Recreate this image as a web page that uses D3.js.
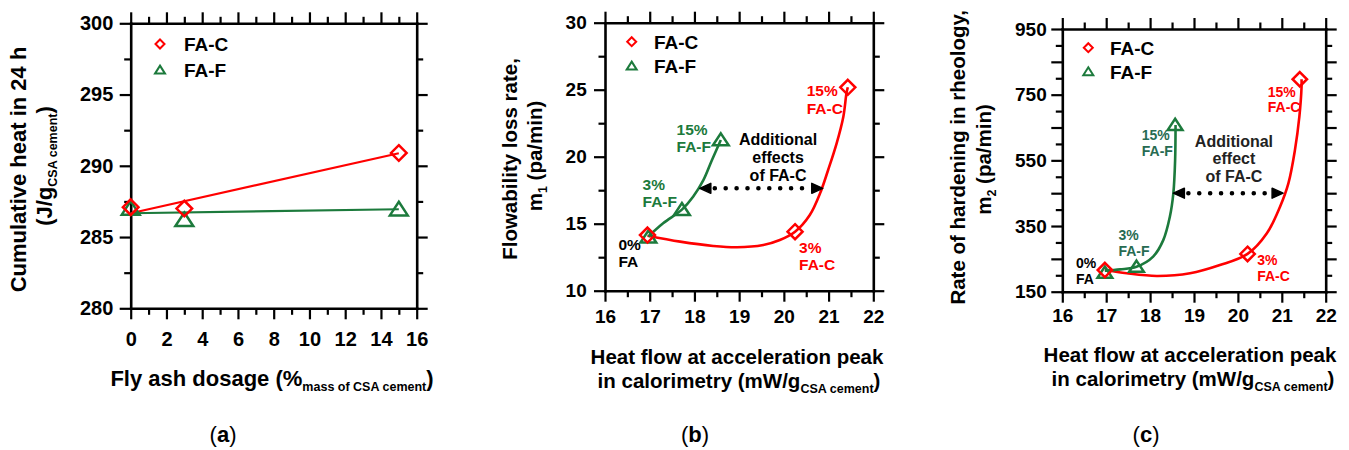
<!DOCTYPE html>
<html>
<head>
<meta charset="utf-8">
<script src="https://cdn.jsdelivr.net/npm/d3@7"></script>
<style>
  body { margin: 0; background: #fff; }
  text { font-family: "Liberation Sans", Arial, sans-serif; }
</style>
</head>
<body>
<svg id="chart" width="1349" height="450"></svg>
<script>
// ---- DATA ----

// (a) cumulative heat in 24 h vs fly ash dosage
const dosage = [0, 3, 15];
const heatFAC = [287.1, 287.0, 290.9];
const heatFAF = [287.0, 286.2, 286.95];
const fitDosage = [0, 15];
const fitHeatFAC = [286.67, 290.88];
const fitHeatFAF = [286.67, 286.95];

// (b) flowability loss rate m1 vs heat flow at acceleration peak
const peakFAC_b = [16.95, 20.25, 21.43];
const m1FAC = [14.15, 14.4, 25.18];
const peakFAF_b = [16.97, 17.72, 18.59];
const m1FAF = [14.0, 16.05, 21.25];
// trend curves
const trendB_FAC = [[16.95, 14.1], [17.68, 13.66], [18.42, 13.34], [18.95, 13.24], [19.54, 13.41], [19.91, 13.78],
  [20.25, 14.4], [20.58, 15.65], [20.81, 17.27], [20.99, 19.01], [21.18, 21.0], [21.33, 22.99], [21.4, 24.73], [21.43, 25.18]];
const trendB_FAF = [[16.97, 14.05], [17.3, 15.03], [17.72, 16.05], [17.97, 17.01], [18.2, 18.25], [18.39, 19.74], [18.59, 21.25]];
const arrowB = [[18.12, 17.64], [20.87, 17.64]];

// (c) rate of hardening m2 vs heat flow at acceleration peak
const peakFAC_c = [16.97, 20.22, 21.41];
const m2FAC = [216, 265, 797];
const peakFAF_c = [16.97, 17.69, 18.57];
const m2FAF = [208, 226, 658];
const trendC_FAC = [[16.97, 216], [17.47, 206], [18.15, 198], [18.91, 206], [19.59, 231], [20.22, 265], [20.66, 328],
  [20.96, 409], [21.15, 480], [21.3, 582], [21.4, 683], [21.45, 774], [21.45, 797]];
const trendC_FAF = [[16.97, 214], [17.32, 218], [17.69, 226], [18.07, 257], [18.3, 307], [18.45, 378], [18.53, 450],
  [18.57, 551], [18.58, 658]];
const arrowC = [[18.53, 450], [21.03, 450]];

// tick values
const ticksA_x = [0, 2, 4, 6, 8, 10, 12, 14, 16];
const minorA_x = [1, 3, 5, 7, 9, 11, 13, 15];
const ticksA_y = [280, 285, 290, 295, 300];
const minorA_y = [282.5, 287.5, 292.5, 297.5];
const ticksBC_x = [16, 17, 18, 19, 20, 21, 22];
const minorBC_x = [16.5, 17.5, 18.5, 19.5, 20.5, 21.5];
const ticksB_y = [10, 15, 20, 25, 30];
const minorB_y = [12.5, 17.5, 22.5, 27.5];
const ticksC_y = [150, 250, 350, 450, 550, 650, 750, 850, 950];
const labelsC_y = [150, 350, 550, 750, 950];
const minorC_y = [200, 300, 400, 500, 600, 700, 800, 900];

// annotations: lines + anchor (data units, first baseline)
const notesB = [
  { lines: ["15%", "FA-F"], at: [17.6, 21.63], kind: "F" },
  { lines: ["3%", "FA-F"], at: [16.84, 17.53], kind: "F" },
  { lines: ["0%", "FA"], at: [16.3, 13.05], kind: "0" },
  { lines: ["15%", "FA-C"], at: [20.51, 24.51], kind: "C" },
  { lines: ["3%", "FA-C"], at: [20.34, 12.83], kind: "C" },
];
const effectB = ["Additional", "effects", "of FA-C"];
const effectB_at = [19.87, 20.9];
const notesC = [
  { lines: ["15%", "FA-F"], at: [17.81, 612], kind: "F" },
  { lines: ["3%", "FA-F"], at: [17.28, 307], kind: "F" },
  { lines: ["0%", "FA"], at: [16.31, 221], kind: "0" },
  { lines: ["15%", "FA-C"], at: [20.68, 744], kind: "C" },
  { lines: ["3%", "FA-C"], at: [20.44, 231], kind: "C" },
];
const effectC = ["Additional", "effect", "of FA-C"];
const effectC_at = [19.91, 592];

// ---- STYLE ----
const RED = "#ff0000";
const GREEN = "#1c7a3c";
const GREEN_C = "#276b52";
const FONT = '"Liberation Sans", Arial, sans-serif';

const svg = d3.select("#chart");

// Diamond and triangle outlines
function diamond(r) {
  return `M0,${-r}L${r},0L0,${r}L${-r},0Z`;
}
function triangle(w, h) {
  return `M0,${-h * 0.55}L${w / 2},${h * 0.45}L${-w / 2},${h * 0.45}Z`;
}

// Frame with outward ticks on all four sides
function drawFrame(g, x, y, o) {
  const [yb, yt] = y.range();
  const [xl, xr] = x.range();
  const sides = [
    [d3.axisBottom, x, `translate(0,${yb})`, o.xMajor, o.xMinor, true, o.xPad],
    [d3.axisTop, x, `translate(0,${yt})`, o.xMajor, o.xMinor, false, 0],
    [d3.axisLeft, y, `translate(${xl},0)`, o.yMajor, o.yMinor, true, o.yPad],
    [d3.axisRight, y, `translate(${xr},0)`, o.yMajor, o.yMinor, false, 0],
  ];
  sides.forEach(([maker, scale, pos, major, minor, labels, pad]) => {
    const gmin = g.append("g").attr("transform", pos)
      .call(maker(scale).tickValues(minor).tickSizeInner(6.5).tickSizeOuter(0).tickFormat(""));
    gmin.select(".domain").remove();
    gmin.selectAll(".tick line").attr("stroke", "#000").attr("stroke-width", 2.2);

    const gmaj = g.append("g").attr("transform", pos)
      .call(maker(scale).tickValues(major).tickSizeInner(11).tickSizeOuter(0).tickPadding(pad)
        .tickFormat(labels ? (o.fmt || ((d) => d)) : ""));
    gmaj.select(".domain").attr("stroke", "#000").attr("stroke-width", 2.6).attr("stroke-linecap", "square");
    gmaj.selectAll(".tick line").attr("stroke", "#000").attr("stroke-width", 2.2);
    gmaj.selectAll(".tick text")
      .attr("font-family", FONT).attr("font-size", o.tickFont || 19).attr("font-weight", "bold").attr("fill", "#000");
  });
}

// legend: off = [marker dx, first row dy, text dx, row gap] from plot top-left
function drawLegend(g, x, y, off) {
  const x0 = x.range()[0];
  const lx = x0 + off[0];
  const ly = y.range()[1] + off[1];
  g.append("path").attr("d", diamond(4.5)).attr("transform", `translate(${lx},${ly})`)
    .attr("fill", "none").attr("stroke", RED).attr("stroke-width", 2);
  g.append("path").attr("d", triangle(10, 8)).attr("transform", `translate(${lx},${ly + off[3]})`)
    .attr("fill", "none").attr("stroke", GREEN).attr("stroke-width", 2);
  [["FA-C", 0], ["FA-F", off[3]]].forEach(([t, dy]) => {
    g.append("text").attr("x", x0 + off[2]).attr("y", ly + dy).attr("dy", "0.36em")
      .attr("font-size", 19).attr("font-weight", "bold").text(t);
  });
}

function drawMarkers(g, x, y, xs, ys, kind, size) {
  g.append("g").selectAll("path").data(xs).join("path")
    .attr("d", kind === "C" ? diamond(size) : triangle(size * 2.1, size * 1.6))
    .attr("transform", (d, i) => `translate(${x(d)},${y(ys[i])})`)
    .attr("fill", "none")
    .attr("stroke", kind === "C" ? RED : GREEN)
    .attr("stroke-width", 2.5);
}

function drawTrend(g, x, y, pts, color) {
  const line = d3.line().x((d) => x(d[0])).y((d) => y(d[1])).curve(d3.curveCatmullRom.alpha(0.5));
  g.append("path").attr("d", line(pts)).attr("fill", "none").attr("stroke", color).attr("stroke-width", 2.6);
}

function drawArrow(g, x, y, ends) {
  const x0 = x(ends[0][0]), x1 = x(ends[1][0]), yy = y(ends[0][1]);
  g.append("line").attr("x1", x0 + 15).attr("x2", x1 - 12).attr("y1", yy).attr("y2", yy)
    .attr("stroke", "#000").attr("stroke-width", 4.6).attr("stroke-linecap", "round")
    .attr("stroke-dasharray", "0 10.9");
  g.append("path").attr("d", `M${x0},${yy}L${x0 + 11},${yy - 5}L${x0 + 11},${yy + 5}Z`)
    .attr("fill", "#000").attr("stroke", "#000").attr("stroke-width", 1.5).attr("stroke-linejoin", "round");
  g.append("path").attr("d", `M${x1},${yy}L${x1 - 11},${yy - 5}L${x1 - 11},${yy + 5}Z`)
    .attr("fill", "#000").attr("stroke", "#000").attr("stroke-width", 1.5).attr("stroke-linejoin", "round");
}

function drawNotes(g, x, y, notes, size, lh, greenColor) {
  notes.forEach((n) => {
    const color = n.kind === "C" ? RED : n.kind === "F" ? greenColor : "#000";
    const t = g.append("text").attr("x", x(n.at[0])).attr("y", y(n.at[1]))
      .attr("font-size", size).attr("font-weight", "bold").attr("fill", color);
    n.lines.forEach((s, i) => t.append("tspan").attr("x", x(n.at[0])).attr("dy", i ? lh : 0).text(s));
  });
}

function drawEffect(g, x, y, lines, at, size, lh, color) {
  const t = g.append("text").attr("x", x(at[0])).attr("y", y(at[1])).attr("text-anchor", "middle")
    .attr("font-size", size).attr("font-weight", "bold").attr("fill", color);
  lines.forEach((s, i) => t.append("tspan").attr("x", x(at[0])).attr("dy", i ? lh : 0).text(s));
}

// text with subscript parts: parts = [[text, isSub], ...]
function richText(sel, parts, size, subSize, shift) {
  let down = false;
  parts.forEach(([s, sub]) => {
    const ts = sel.append("tspan").text(s);
    if (sub) { ts.attr("font-size", subSize).attr("dy", shift); down = true; }
    else if (down) { ts.attr("dy", -shift); down = false; }
  });
  return sel;
}

function yTitle(g, bx, cy, parts, size) {
  const t = g.append("text").attr("transform", `translate(${bx},${cy}) rotate(-90)`)
    .attr("text-anchor", "middle").attr("font-size", size).attr("font-weight", "bold");
  return richText(t, parts, size, 12.5, 5);
}

function xTitle(g, cx, by, parts, size) {
  const t = g.append("text").attr("x", cx).attr("y", by)
    .attr("text-anchor", "middle").attr("font-size", size).attr("font-weight", "bold");
  return richText(t, parts, size, 12.5, 5);
}

function panelTag(g, cx, by, letter) {
  const t = g.append("text").attr("x", cx).attr("y", by).attr("text-anchor", "middle")
    .attr("font-family", '"Liberation Serif", "Times New Roman", serif').attr("font-size", 22);
  t.append("tspan").text("(");
  t.append("tspan").attr("font-weight", "bold").text(letter);
  t.append("tspan").text(")");
}

// ---- PANEL (a) ----
{
  const g = svg.append("g");
  const x = d3.scaleLinear().domain([0, 16]).range([130.7, 416.7]);
  const y = d3.scaleLinear().domain([280, 300]).range([308.3, 23.3]);
  drawFrame(g, x, y, { xMajor: ticksA_x, xMinor: minorA_x, yMajor: ticksA_y, yMinor: minorA_y, xPad: 12.4, yPad: 6.4, tickFont: 20 });

  const fit = d3.line().x((d) => x(d[0])).y((d) => y(d[1]));
  g.append("path").attr("d", fit(fitDosage.map((d, i) => [d, fitHeatFAC[i]])))
    .attr("fill", "none").attr("stroke", RED).attr("stroke-width", 2.2);
  g.append("path").attr("d", fit(fitDosage.map((d, i) => [d, fitHeatFAF[i]])))
    .attr("fill", "none").attr("stroke", GREEN).attr("stroke-width", 2.2);
  drawMarkers(g, x, y, dosage, heatFAF, "F", 8.5);
  drawMarkers(g, x, y, dosage, heatFAC, "C", 7.8);
  drawLegend(g, x, y, [29.3, 20.7, 53.3, 26]);

  yTitle(g, 26, 169.5, [["Cumulative heat in 24 h", false]], 22);
  yTitle(g, 52, 166, [["(J/g", false], ["CSA cement", true], [")", false]], 22);
  xTitle(g, 272, 386, [["Fly ash dosage (%", false], ["mass of CSA cement", true], [")", false]], 22);
  panelTag(g, 223, 442, "a");
}

// ---- PANEL (b) ----
{
  const g = svg.append("g");
  const x = d3.scaleLinear().domain([16, 22]).range([605, 873.3]);
  const y = d3.scaleLinear().domain([10, 30]).range([290.7, 22.7]);
  drawFrame(g, x, y, { xMajor: ticksBC_x, xMinor: minorBC_x, yMajor: ticksB_y, yMinor: minorB_y, xPad: 8.3, yPad: 7.3 });

  drawTrend(g, x, y, trendB_FAC, RED);
  drawTrend(g, x, y, trendB_FAF, GREEN);
  drawMarkers(g, x, y, peakFAF_b, m1FAF, "F", 7.5);
  drawMarkers(g, x, y, peakFAC_b, m1FAC, "C", 7.5);
  drawArrow(g, x, y, arrowB);
  drawNotes(g, x, y, notesB, 15.5, 17.6, GREEN);
  drawEffect(g, x, y, effectB, effectB_at, 16, 18, "#000");
  drawLegend(g, x, y, [26.7, 19, 49, 24.3]);

  yTitle(g, 517, 159, [["Flowability loss rate,", false]], 20.5);
  yTitle(g, 541.5, 156, [["m", false], ["1", true], [" (pa/min)", false]], 20.5);
  xTitle(g, 737, 364, [["Heat flow at acceleration peak", false]], 20.5);
  xTitle(g, 739, 388, [["in calorimetry (mW/g", false], ["CSA cement", true], [")", false]], 20.5);
  panelTag(g, 695, 442, "b");
}

// ---- PANEL (c) ----
{
  const g = svg.append("g");
  const x = d3.scaleLinear().domain([16, 22]).range([1062.3, 1325.7]);
  const y = d3.scaleLinear().domain([150, 950]).range([291.7, 29]);
  drawFrame(g, x, y, {
    xMajor: ticksBC_x, xMinor: minorBC_x, yMajor: ticksC_y, yMinor: minorC_y, xPad: 5.6, yPad: 4.6,
    fmt: (d) => (labelsC_y.includes(d) || ticksBC_x.includes(d) ? d : ""),
  });

  drawTrend(g, x, y, trendC_FAC, RED);
  drawTrend(g, x, y, trendC_FAF, GREEN);
  drawMarkers(g, x, y, peakFAF_c, m2FAF, "F", 7);
  drawMarkers(g, x, y, peakFAC_c, m2FAC, "C", 7.2);
  drawArrow(g, x, y, arrowC);
  drawNotes(g, x, y, notesC, 14, 15.7, GREEN_C);
  drawEffect(g, x, y, effectC, effectC_at, 16, 17.8, "#222");
  drawLegend(g, x, y, [26, 18.7, 47.7, 24]);

  yTitle(g, 965, 157.3, [["Rate of hardening in rheology,", false]], 20.5);
  yTitle(g, 991, 159.5, [["m", false], ["2", true], [" (pa/min)", false]], 20.5);
  xTitle(g, 1190, 362, [["Heat flow at acceleration peak", false]], 20.5);
  xTitle(g, 1193, 386, [["in calorimetry (mW/g", false], ["CSA cement", true], [")", false]], 20.5);
  panelTag(g, 1146, 442, "c");
}
</script>
</body>
</html>
